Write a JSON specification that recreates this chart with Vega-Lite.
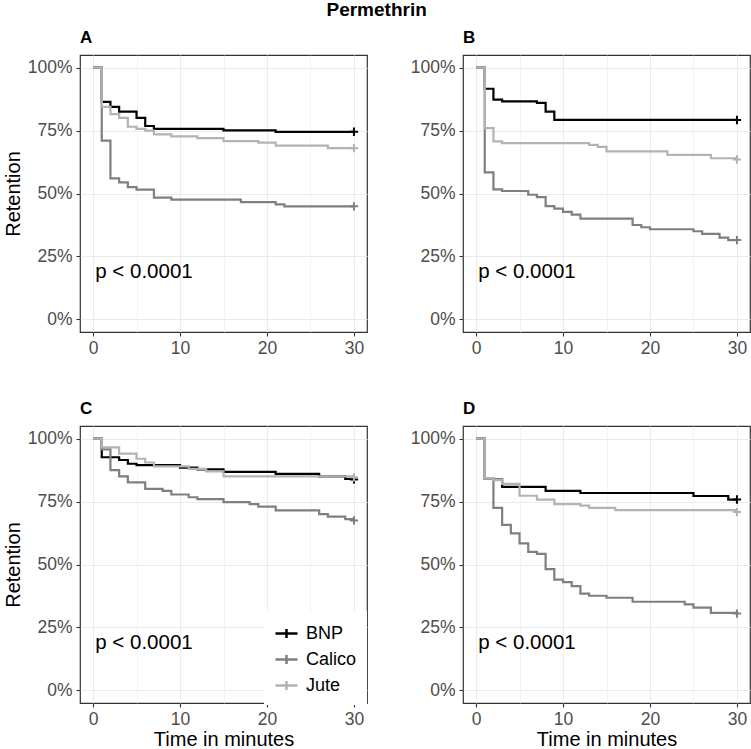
{
  "$schema": "https://vega.github.io/schema/vega-lite/v6.json",
  "background": "white",
  "padding": {"left": 2, "top": 1, "right": 2, "bottom": 0},
  "autosize": {"type": "pad"},
  "title": {"text": "Permethrin", "fontSize": 19, "fontWeight": "bold", "font": "Liberation Sans", "color": "black", "anchor": "middle", "frame": "bounds", "offset": 8},
  "config": {
    "font": "Liberation Sans",
    "view": {"stroke": "#333333", "strokeWidth": 1.2},
    "axis": {
      "domain": false,
      "tickColor": "#333333",
      "tickSize": 4,
      "tickWidth": 1.1,
      "labelColor": "#4D4D4D",
      "labelFontSize": 17.5,
      "labelFont": "Liberation Sans",
      "titleFont": "Liberation Sans",
      "titleFontSize": 20,
      "titleFontWeight": "normal",
      "titleColor": "black",
      "gridColor": "#EBEBEB"
    },
    "axisX": {"labelPadding": 3, "titlePadding": 2},
    "axisY": {"labelPadding": 4, "titlePadding": 4},
    "title": {"anchor": "start", "frame": "group", "fontSize": 17, "fontWeight": "bold", "color": "black", "offset": 8, "font": "Liberation Sans"}
  },
  "datasets": {
    "surv": [
      {"panel": "A", "group": "BNP", "time": 0, "surv": 1.0},
      {"panel": "A", "group": "BNP", "time": 1, "surv": 0.864},
      {"panel": "A", "group": "BNP", "time": 2, "surv": 0.844},
      {"panel": "A", "group": "BNP", "time": 3, "surv": 0.825},
      {"panel": "A", "group": "BNP", "time": 5, "surv": 0.80},
      {"panel": "A", "group": "BNP", "time": 6, "surv": 0.768},
      {"panel": "A", "group": "BNP", "time": 7, "surv": 0.757},
      {"panel": "A", "group": "BNP", "time": 15, "surv": 0.751},
      {"panel": "A", "group": "BNP", "time": 21, "surv": 0.745},
      {"panel": "A", "group": "BNP", "time": 30, "surv": 0.745},
      {"panel": "A", "group": "Calico", "time": 0, "surv": 1.0},
      {"panel": "A", "group": "Calico", "time": 1, "surv": 0.71},
      {"panel": "A", "group": "Calico", "time": 2, "surv": 0.56},
      {"panel": "A", "group": "Calico", "time": 3, "surv": 0.544},
      {"panel": "A", "group": "Calico", "time": 4, "surv": 0.525},
      {"panel": "A", "group": "Calico", "time": 5, "surv": 0.515},
      {"panel": "A", "group": "Calico", "time": 7, "surv": 0.484},
      {"panel": "A", "group": "Calico", "time": 9, "surv": 0.476},
      {"panel": "A", "group": "Calico", "time": 17, "surv": 0.466},
      {"panel": "A", "group": "Calico", "time": 21, "surv": 0.457},
      {"panel": "A", "group": "Calico", "time": 22, "surv": 0.449},
      {"panel": "A", "group": "Calico", "time": 30, "surv": 0.449},
      {"panel": "A", "group": "Jute", "time": 0, "surv": 1.0},
      {"panel": "A", "group": "Jute", "time": 1, "surv": 0.844},
      {"panel": "A", "group": "Jute", "time": 2, "surv": 0.815},
      {"panel": "A", "group": "Jute", "time": 3, "surv": 0.80},
      {"panel": "A", "group": "Jute", "time": 4, "surv": 0.765},
      {"panel": "A", "group": "Jute", "time": 5, "surv": 0.757},
      {"panel": "A", "group": "Jute", "time": 6, "surv": 0.75},
      {"panel": "A", "group": "Jute", "time": 7, "surv": 0.735},
      {"panel": "A", "group": "Jute", "time": 9, "surv": 0.727},
      {"panel": "A", "group": "Jute", "time": 12, "surv": 0.72},
      {"panel": "A", "group": "Jute", "time": 15, "surv": 0.708},
      {"panel": "A", "group": "Jute", "time": 19, "surv": 0.702},
      {"panel": "A", "group": "Jute", "time": 21, "surv": 0.69},
      {"panel": "A", "group": "Jute", "time": 27, "surv": 0.68},
      {"panel": "A", "group": "Jute", "time": 30, "surv": 0.68},

      {"panel": "B", "group": "BNP", "time": 0, "surv": 1.0},
      {"panel": "B", "group": "BNP", "time": 1, "surv": 0.916},
      {"panel": "B", "group": "BNP", "time": 2, "surv": 0.873},
      {"panel": "B", "group": "BNP", "time": 3, "surv": 0.866},
      {"panel": "B", "group": "BNP", "time": 7, "surv": 0.86},
      {"panel": "B", "group": "BNP", "time": 8, "surv": 0.825},
      {"panel": "B", "group": "BNP", "time": 9, "surv": 0.792},
      {"panel": "B", "group": "BNP", "time": 30, "surv": 0.792},
      {"panel": "B", "group": "Calico", "time": 0, "surv": 1.0},
      {"panel": "B", "group": "Calico", "time": 1, "surv": 0.584},
      {"panel": "B", "group": "Calico", "time": 2, "surv": 0.516},
      {"panel": "B", "group": "Calico", "time": 3, "surv": 0.51},
      {"panel": "B", "group": "Calico", "time": 6, "surv": 0.495},
      {"panel": "B", "group": "Calico", "time": 7, "surv": 0.486},
      {"panel": "B", "group": "Calico", "time": 8, "surv": 0.45},
      {"panel": "B", "group": "Calico", "time": 9, "surv": 0.44},
      {"panel": "B", "group": "Calico", "time": 10, "surv": 0.427},
      {"panel": "B", "group": "Calico", "time": 11, "surv": 0.416},
      {"panel": "B", "group": "Calico", "time": 12, "surv": 0.40},
      {"panel": "B", "group": "Calico", "time": 18, "surv": 0.375},
      {"panel": "B", "group": "Calico", "time": 19, "surv": 0.366},
      {"panel": "B", "group": "Calico", "time": 20, "surv": 0.358},
      {"panel": "B", "group": "Calico", "time": 25, "surv": 0.35},
      {"panel": "B", "group": "Calico", "time": 26, "surv": 0.34},
      {"panel": "B", "group": "Calico", "time": 28, "surv": 0.325},
      {"panel": "B", "group": "Calico", "time": 29, "surv": 0.315},
      {"panel": "B", "group": "Calico", "time": 30, "surv": 0.315},
      {"panel": "B", "group": "Jute", "time": 0, "surv": 1.0},
      {"panel": "B", "group": "Jute", "time": 1, "surv": 0.76},
      {"panel": "B", "group": "Jute", "time": 2, "surv": 0.707},
      {"panel": "B", "group": "Jute", "time": 3, "surv": 0.70},
      {"panel": "B", "group": "Jute", "time": 13, "surv": 0.693},
      {"panel": "B", "group": "Jute", "time": 14, "surv": 0.685},
      {"panel": "B", "group": "Jute", "time": 15, "surv": 0.667},
      {"panel": "B", "group": "Jute", "time": 22, "surv": 0.653},
      {"panel": "B", "group": "Jute", "time": 27, "surv": 0.64},
      {"panel": "B", "group": "Jute", "time": 30, "surv": 0.635},

      {"panel": "C", "group": "BNP", "time": 0, "surv": 1.0},
      {"panel": "C", "group": "BNP", "time": 1, "surv": 0.926},
      {"panel": "C", "group": "BNP", "time": 3, "surv": 0.915},
      {"panel": "C", "group": "BNP", "time": 4, "surv": 0.90},
      {"panel": "C", "group": "BNP", "time": 5, "surv": 0.895},
      {"panel": "C", "group": "BNP", "time": 10, "surv": 0.885},
      {"panel": "C", "group": "BNP", "time": 12, "surv": 0.878},
      {"panel": "C", "group": "BNP", "time": 15, "surv": 0.868},
      {"panel": "C", "group": "BNP", "time": 21, "surv": 0.86},
      {"panel": "C", "group": "BNP", "time": 26, "surv": 0.85},
      {"panel": "C", "group": "BNP", "time": 29, "surv": 0.84},
      {"panel": "C", "group": "BNP", "time": 30, "surv": 0.838},
      {"panel": "C", "group": "Calico", "time": 0, "surv": 1.0},
      {"panel": "C", "group": "Calico", "time": 1, "surv": 0.957},
      {"panel": "C", "group": "Calico", "time": 2, "surv": 0.875},
      {"panel": "C", "group": "Calico", "time": 3, "surv": 0.85},
      {"panel": "C", "group": "Calico", "time": 4, "surv": 0.826},
      {"panel": "C", "group": "Calico", "time": 6, "surv": 0.80},
      {"panel": "C", "group": "Calico", "time": 8, "surv": 0.792},
      {"panel": "C", "group": "Calico", "time": 9, "surv": 0.778},
      {"panel": "C", "group": "Calico", "time": 11, "surv": 0.767},
      {"panel": "C", "group": "Calico", "time": 12, "surv": 0.76},
      {"panel": "C", "group": "Calico", "time": 15, "surv": 0.748},
      {"panel": "C", "group": "Calico", "time": 18, "surv": 0.74},
      {"panel": "C", "group": "Calico", "time": 19, "surv": 0.73},
      {"panel": "C", "group": "Calico", "time": 21, "surv": 0.715},
      {"panel": "C", "group": "Calico", "time": 26, "surv": 0.70},
      {"panel": "C", "group": "Calico", "time": 27, "surv": 0.69},
      {"panel": "C", "group": "Calico", "time": 29, "surv": 0.68},
      {"panel": "C", "group": "Calico", "time": 30, "surv": 0.675},
      {"panel": "C", "group": "Jute", "time": 0, "surv": 1.0},
      {"panel": "C", "group": "Jute", "time": 1, "surv": 0.965},
      {"panel": "C", "group": "Jute", "time": 3, "surv": 0.94},
      {"panel": "C", "group": "Jute", "time": 5, "surv": 0.92},
      {"panel": "C", "group": "Jute", "time": 6, "surv": 0.905},
      {"panel": "C", "group": "Jute", "time": 7, "surv": 0.89},
      {"panel": "C", "group": "Jute", "time": 11, "surv": 0.88},
      {"panel": "C", "group": "Jute", "time": 13, "surv": 0.87},
      {"panel": "C", "group": "Jute", "time": 15, "surv": 0.85},
      {"panel": "C", "group": "Jute", "time": 30, "surv": 0.846},

      {"panel": "D", "group": "BNP", "time": 0, "surv": 1.0},
      {"panel": "D", "group": "BNP", "time": 1, "surv": 0.84},
      {"panel": "D", "group": "BNP", "time": 2, "surv": 0.837},
      {"panel": "D", "group": "BNP", "time": 3, "surv": 0.808},
      {"panel": "D", "group": "BNP", "time": 8, "surv": 0.792},
      {"panel": "D", "group": "BNP", "time": 12, "surv": 0.784},
      {"panel": "D", "group": "BNP", "time": 25, "surv": 0.772},
      {"panel": "D", "group": "BNP", "time": 29, "surv": 0.758},
      {"panel": "D", "group": "BNP", "time": 30, "surv": 0.758},
      {"panel": "D", "group": "Calico", "time": 0, "surv": 1.0},
      {"panel": "D", "group": "Calico", "time": 1, "surv": 0.84},
      {"panel": "D", "group": "Calico", "time": 2, "surv": 0.725},
      {"panel": "D", "group": "Calico", "time": 3, "surv": 0.657},
      {"panel": "D", "group": "Calico", "time": 4, "surv": 0.624},
      {"panel": "D", "group": "Calico", "time": 5, "surv": 0.584},
      {"panel": "D", "group": "Calico", "time": 6, "surv": 0.55},
      {"panel": "D", "group": "Calico", "time": 7, "surv": 0.542},
      {"panel": "D", "group": "Calico", "time": 8, "surv": 0.482},
      {"panel": "D", "group": "Calico", "time": 9, "surv": 0.44},
      {"panel": "D", "group": "Calico", "time": 10, "surv": 0.43},
      {"panel": "D", "group": "Calico", "time": 11, "surv": 0.414},
      {"panel": "D", "group": "Calico", "time": 12, "surv": 0.384},
      {"panel": "D", "group": "Calico", "time": 13, "surv": 0.376},
      {"panel": "D", "group": "Calico", "time": 15, "surv": 0.368},
      {"panel": "D", "group": "Calico", "time": 18, "surv": 0.352},
      {"panel": "D", "group": "Calico", "time": 24, "surv": 0.342},
      {"panel": "D", "group": "Calico", "time": 25, "surv": 0.329},
      {"panel": "D", "group": "Calico", "time": 27, "surv": 0.308},
      {"panel": "D", "group": "Calico", "time": 30, "surv": 0.305},
      {"panel": "D", "group": "Jute", "time": 0, "surv": 1.0},
      {"panel": "D", "group": "Jute", "time": 1, "surv": 0.842},
      {"panel": "D", "group": "Jute", "time": 2, "surv": 0.835},
      {"panel": "D", "group": "Jute", "time": 3, "surv": 0.82},
      {"panel": "D", "group": "Jute", "time": 5, "surv": 0.773},
      {"panel": "D", "group": "Jute", "time": 7, "surv": 0.758},
      {"panel": "D", "group": "Jute", "time": 9, "surv": 0.74},
      {"panel": "D", "group": "Jute", "time": 12, "surv": 0.734},
      {"panel": "D", "group": "Jute", "time": 13, "surv": 0.725},
      {"panel": "D", "group": "Jute", "time": 16, "surv": 0.716},
      {"panel": "D", "group": "Jute", "time": 30, "surv": 0.708}
    ],
    "annot": [
      {"panel": "A", "label": "p < 0.0001", "time": 0.25, "surv": 0.165},
      {"panel": "B", "label": "p < 0.0001", "time": 0.25, "surv": 0.165},
      {"panel": "C", "label": "p < 0.0001", "time": 0.25, "surv": 0.165},
      {"panel": "D", "label": "p < 0.0001", "time": 0.25, "surv": 0.165}
    ]
  },
  "bounds": "flush",
  "columns": 2,
  "spacing": {"row": 94, "column": 96},
  "resolve": {"scale": {"color": "independent"}, "legend": {"color": "independent"}},
  "concat": [
    {
      "title": {"text": "A"},
      "width": 287, "height": 277,
      "layer": [
        {
          "data": {"name": "surv"},
          "transform": [{"filter": "datum.panel === 'A'"}],
          "mark": {"type": "line", "interpolate": "step-after", "strokeWidth": 2.2},
          "encoding": {
            "x": {"field": "time", "type": "quantitative", "scale": {"domain": [-1.5, 31.5], "nice": false, "zero": false},
              "axis": {"title": null, "values": [0, 5, 10, 15, 20, 25, 30], "labelExpr": "datum.value % 10 === 0 ? datum.label : ''",
                "tickOpacity": {"condition": {"test": "datum.value % 10 === 0", "value": 1}, "value": 0},
                "gridWidth": {"condition": {"test": "datum.value % 10 === 0", "value": 1.1}, "value": 0.6}}},
            "y": {"field": "surv", "type": "quantitative", "scale": {"domain": [-0.05, 1.05], "nice": false, "zero": false},
              "axis": {"title": "Retention", "values": [0, 0.125, 0.25, 0.375, 0.5, 0.625, 0.75, 0.875, 1], "format": ".0%",
                "labelExpr": "round(datum.value * 8) % 2 === 0 ? datum.label : ''",
                "tickOpacity": {"condition": {"test": "round(datum.value * 8) % 2 === 0", "value": 1}, "value": 0},
                "gridWidth": {"condition": {"test": "round(datum.value * 8) % 2 === 0", "value": 1.1}, "value": 0.6}}},
            "color": {"field": "group", "type": "nominal", "scale": {"domain": ["BNP", "Calico", "Jute"], "range": ["#000000", "#7F7F7F", "#B3B3B3"]}, "legend": null}
          }
        },
        {
          "data": {"name": "surv"},
          "transform": [{"filter": "datum.panel === 'A' && datum.time === 30"}],
          "mark": {"type": "point", "shape": "M-1,0L1,0M0,-1L0,1", "filled": false, "size": 70, "strokeWidth": 2, "opacity": 1},
          "encoding": {
            "x": {"field": "time", "type": "quantitative"},
            "y": {"field": "surv", "type": "quantitative"},
            "color": {"field": "group", "type": "nominal", "legend": null}
          }
        },
        {
          "data": {"name": "annot"},
          "transform": [{"filter": "datum.panel === 'A'"}],
          "mark": {"type": "text", "align": "left", "baseline": "alphabetic", "fontSize": 20.5, "color": "black", "font": "Liberation Sans"},
          "encoding": {
            "x": {"field": "time", "type": "quantitative"},
            "y": {"field": "surv", "type": "quantitative"},
            "text": {"field": "label"}
          }
        }
      ]
    },
    {
      "title": {"text": "B"},
      "width": 287, "height": 277,
      "layer": [
        {
          "data": {"name": "surv"},
          "transform": [{"filter": "datum.panel === 'B'"}],
          "mark": {"type": "line", "interpolate": "step-after", "strokeWidth": 2.2},
          "encoding": {
            "x": {"field": "time", "type": "quantitative", "scale": {"domain": [-1.5, 31.5], "nice": false, "zero": false},
              "axis": {"title": null, "values": [0, 5, 10, 15, 20, 25, 30], "labelExpr": "datum.value % 10 === 0 ? datum.label : ''",
                "tickOpacity": {"condition": {"test": "datum.value % 10 === 0", "value": 1}, "value": 0},
                "gridWidth": {"condition": {"test": "datum.value % 10 === 0", "value": 1.1}, "value": 0.6}}},
            "y": {"field": "surv", "type": "quantitative", "scale": {"domain": [-0.05, 1.05], "nice": false, "zero": false},
              "axis": {"title": null, "values": [0, 0.125, 0.25, 0.375, 0.5, 0.625, 0.75, 0.875, 1], "format": ".0%",
                "labelExpr": "round(datum.value * 8) % 2 === 0 ? datum.label : ''",
                "tickOpacity": {"condition": {"test": "round(datum.value * 8) % 2 === 0", "value": 1}, "value": 0},
                "gridWidth": {"condition": {"test": "round(datum.value * 8) % 2 === 0", "value": 1.1}, "value": 0.6}}},
            "color": {"field": "group", "type": "nominal", "scale": {"domain": ["BNP", "Calico", "Jute"], "range": ["#000000", "#7F7F7F", "#B3B3B3"]}, "legend": null}
          }
        },
        {
          "data": {"name": "surv"},
          "transform": [{"filter": "datum.panel === 'B' && datum.time === 30"}],
          "mark": {"type": "point", "shape": "M-1,0L1,0M0,-1L0,1", "filled": false, "size": 70, "strokeWidth": 2, "opacity": 1},
          "encoding": {
            "x": {"field": "time", "type": "quantitative"},
            "y": {"field": "surv", "type": "quantitative"},
            "color": {"field": "group", "type": "nominal", "legend": null}
          }
        },
        {
          "data": {"name": "annot"},
          "transform": [{"filter": "datum.panel === 'B'"}],
          "mark": {"type": "text", "align": "left", "baseline": "alphabetic", "fontSize": 20.5, "color": "black", "font": "Liberation Sans"},
          "encoding": {
            "x": {"field": "time", "type": "quantitative"},
            "y": {"field": "surv", "type": "quantitative"},
            "text": {"field": "label"}
          }
        }
      ]
    },
    {
      "title": {"text": "C"},
      "width": 287, "height": 277,
      "layer": [
        {
          "data": {"name": "surv"},
          "transform": [{"filter": "datum.panel === 'C'"}],
          "mark": {"type": "line", "interpolate": "step-after", "strokeWidth": 2.2},
          "encoding": {
            "x": {"field": "time", "type": "quantitative", "scale": {"domain": [-1.5, 31.5], "nice": false, "zero": false},
              "axis": {"title": "Time in minutes", "values": [0, 5, 10, 15, 20, 25, 30], "labelExpr": "datum.value % 10 === 0 ? datum.label : ''",
                "tickOpacity": {"condition": {"test": "datum.value % 10 === 0", "value": 1}, "value": 0},
                "gridWidth": {"condition": {"test": "datum.value % 10 === 0", "value": 1.1}, "value": 0.6}}},
            "y": {"field": "surv", "type": "quantitative", "scale": {"domain": [-0.05, 1.05], "nice": false, "zero": false},
              "axis": {"title": "Retention", "values": [0, 0.125, 0.25, 0.375, 0.5, 0.625, 0.75, 0.875, 1], "format": ".0%",
                "labelExpr": "round(datum.value * 8) % 2 === 0 ? datum.label : ''",
                "tickOpacity": {"condition": {"test": "round(datum.value * 8) % 2 === 0", "value": 1}, "value": 0},
                "gridWidth": {"condition": {"test": "round(datum.value * 8) % 2 === 0", "value": 1.1}, "value": 0.6}}},
            "color": {"field": "group", "type": "nominal", "scale": {"domain": ["BNP", "Calico", "Jute"], "range": ["#000000", "#7F7F7F", "#B3B3B3"]},
              "legend": {"title": null, "orient": "none", "legendX": 184, "legendY": 185, "fillColor": "white", "padding": 10,
                "symbolType": "M-1,0L1,0M0,-0.4L0,0.4", "symbolSize": 484, "symbolStrokeWidth": 2.5, "symbolFillColor": "transparent",
                "labelFontSize": 18, "labelColor": "black", "labelFont": "Liberation Sans", "labelOffset": 7, "rowPadding": 4}}
          }
        },
        {
          "data": {"name": "surv"},
          "transform": [{"filter": "datum.panel === 'C' && datum.time === 30"}],
          "mark": {"type": "point", "shape": "M-1,0L1,0M0,-1L0,1", "filled": false, "size": 70, "strokeWidth": 2, "opacity": 1},
          "encoding": {
            "x": {"field": "time", "type": "quantitative"},
            "y": {"field": "surv", "type": "quantitative"},
            "color": {"field": "group", "type": "nominal"}
          }
        },
        {
          "data": {"name": "annot"},
          "transform": [{"filter": "datum.panel === 'C'"}],
          "mark": {"type": "text", "align": "left", "baseline": "alphabetic", "fontSize": 20.5, "color": "black", "font": "Liberation Sans"},
          "encoding": {
            "x": {"field": "time", "type": "quantitative"},
            "y": {"field": "surv", "type": "quantitative"},
            "text": {"field": "label"}
          }
        }
      ]
    },
    {
      "title": {"text": "D"},
      "width": 287, "height": 277,
      "layer": [
        {
          "data": {"name": "surv"},
          "transform": [{"filter": "datum.panel === 'D'"}],
          "mark": {"type": "line", "interpolate": "step-after", "strokeWidth": 2.2},
          "encoding": {
            "x": {"field": "time", "type": "quantitative", "scale": {"domain": [-1.5, 31.5], "nice": false, "zero": false},
              "axis": {"title": "Time in minutes", "values": [0, 5, 10, 15, 20, 25, 30], "labelExpr": "datum.value % 10 === 0 ? datum.label : ''",
                "tickOpacity": {"condition": {"test": "datum.value % 10 === 0", "value": 1}, "value": 0},
                "gridWidth": {"condition": {"test": "datum.value % 10 === 0", "value": 1.1}, "value": 0.6}}},
            "y": {"field": "surv", "type": "quantitative", "scale": {"domain": [-0.05, 1.05], "nice": false, "zero": false},
              "axis": {"title": null, "values": [0, 0.125, 0.25, 0.375, 0.5, 0.625, 0.75, 0.875, 1], "format": ".0%",
                "labelExpr": "round(datum.value * 8) % 2 === 0 ? datum.label : ''",
                "tickOpacity": {"condition": {"test": "round(datum.value * 8) % 2 === 0", "value": 1}, "value": 0},
                "gridWidth": {"condition": {"test": "round(datum.value * 8) % 2 === 0", "value": 1.1}, "value": 0.6}}},
            "color": {"field": "group", "type": "nominal", "scale": {"domain": ["BNP", "Calico", "Jute"], "range": ["#000000", "#7F7F7F", "#B3B3B3"]}, "legend": null}
          }
        },
        {
          "data": {"name": "surv"},
          "transform": [{"filter": "datum.panel === 'D' && datum.time === 30"}],
          "mark": {"type": "point", "shape": "M-1,0L1,0M0,-1L0,1", "filled": false, "size": 70, "strokeWidth": 2, "opacity": 1},
          "encoding": {
            "x": {"field": "time", "type": "quantitative"},
            "y": {"field": "surv", "type": "quantitative"},
            "color": {"field": "group", "type": "nominal", "legend": null}
          }
        },
        {
          "data": {"name": "annot"},
          "transform": [{"filter": "datum.panel === 'D'"}],
          "mark": {"type": "text", "align": "left", "baseline": "alphabetic", "fontSize": 20.5, "color": "black", "font": "Liberation Sans"},
          "encoding": {
            "x": {"field": "time", "type": "quantitative"},
            "y": {"field": "surv", "type": "quantitative"},
            "text": {"field": "label"}
          }
        }
      ]
    }
  ]
}
